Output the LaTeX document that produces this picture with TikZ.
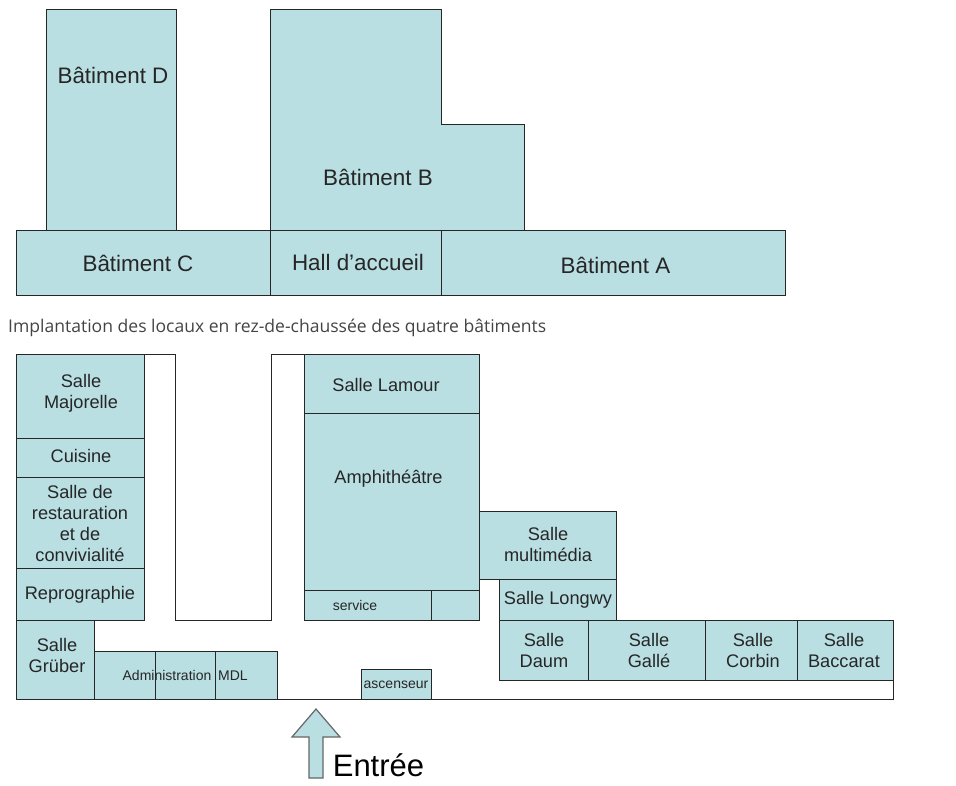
\documentclass[tikz,border=0pt]{standalone}
\usepackage{fontspec}
\setmainfont{Liberation Sans}
\newfontfamily\captionfont{Open Sans}
\definecolor{roomfill}{HTML}{B9DFE2}
\definecolor{roomline}{HTML}{262626}
\definecolor{captext}{HTML}{444444}
\tikzset{
  room/.style={draw=roomline,fill=roomfill,line width=1pt,line join=miter},
  wall/.style={draw=roomline,line width=1pt,line join=miter},
  lab/.style={inner sep=0pt,align=center,text=black!85,font=\fontsize{18.2}{21}\selectfont},
  biglab/.style={lab,font=\fontsize{22.4}{25}\selectfont},
  smalllab/.style={lab,font=\fontsize{14}{16}\selectfont},
  entrylab/.style={lab,text=black,font=\fontsize{31}{34}\selectfont},
  caplab/.style={inner sep=0pt,anchor=west,text=captext,font=\captionfont\fontsize{17.55}{20}\selectfont},
  arrowshape/.style={draw=black!60,fill=roomfill,line width=1.2pt,line join=miter}
}
\begin{document}
\begin{tikzpicture}[x=1pt,y=-1pt]
\useasboundingbox (0,0) rectangle (956,785);
% upper plan
\draw[room] (46,9) rectangle (176,230);
\draw[room] (270,9) -- (441,9) -- (441,124) -- (524,124) -- (524,230) -- (270,230) -- cycle;
\draw[room] (16,230) rectangle (270,295);
\draw[room] (270,230) rectangle (441,295);
\draw[room] (441,230) rectangle (785,295);
\node[biglab] (batD) at (113,75) {Bâtiment D};
\node[biglab] (batB) at (378,177) {Bâtiment B};
\node[biglab] (batC) at (138,263) {Bâtiment C};
\node[biglab] (hall) at (358,262) {Hall d’accueil};
\node[biglab] (batA) at (615.5,265.5) {Bâtiment A};
\node[caplab] (cap) at (8,327.5) {Implantation des locaux en rez-de-chaussée des quatre bâtiments};
% lower plan: walls
\draw[wall] (144,354.5) -- (175,354.5) -- (175,620) -- (271,620) -- (271,354.5) -- (304,354.5);
\draw[wall] (277,699) -- (893,699) -- (893,680);
% left column
\draw[room] (16,354.5) rectangle (144,438);
\draw[room] (16,438) rectangle (144,477);
\draw[room] (16,477) rectangle (144,568);
\draw[room] (16,568) rectangle (144,620);
\draw[room] (16,620) rectangle (94,699);
\draw[room] (94,651) rectangle (155,699);
\draw[room] (155,651) rectangle (215,699);
\draw[room] (215,651) rectangle (277,699);
% centre
\draw[room] (304,354.5) rectangle (479,413);
\draw[room] (304,413) rectangle (479,590);
\draw[room] (304,590) rectangle (431,620);
\draw[room] (431,590) rectangle (479,620);
\draw[room] (361,669) rectangle (431,699);
% right
\draw[room] (479,511) rectangle (616,579);
\draw[room] (499,579) rectangle (616,620);
\draw[room] (499,620) rectangle (588,680);
\draw[room] (588,620) rectangle (705,680);
\draw[room] (705,620) rectangle (797,680);
\draw[room] (797,620) rectangle (893,680);
% labels
\node[lab] (maj) at (81,393.5) {Salle\\Majorelle};
\node[lab] (cui) at (81,455.5) {Cuisine};
\node[lab] (res) at (80,523.5) {Salle de\\restauration\\et de\\convivialité};
\node[lab] (rep) at (80,594.5) {Reprographie};
\node[lab] (gru) at (57,655.5) {Salle\\Grüber};
\node[smalllab] (adm) at (167,675) {Administration};
\node[smalllab] (mdl) at (233,676) {MDL};
\node[lab] (lam) at (386,385) {Salle Lamour};
\node[lab] (amp) at (388.5,478.5) {Amphithéâtre};
\node[smalllab] (ser) at (355,605.5) {service};
\node[smalllab] (asc) at (396,684.5) {ascenseur};
\node[lab] (mul) at (548,544) {Salle\\multimédia};
\node[lab] (lon) at (558,600) {Salle Longwy};
\node[lab] (dau) at (544,650) {Salle\\Daum};
\node[lab] (gal) at (649,650) {Salle\\Gallé};
\node[lab] (cor) at (753,650) {Salle\\Corbin};
\node[lab] (bac) at (844,650) {Salle\\Baccarat};
% entrance
\draw[arrowshape] (316,709) -- (340,737) -- (323,737) -- (323,778) -- (309,778) -- (309,737) -- (292,737) -- cycle;
\node[entrylab] (ent) at (378.5,765) {Entrée};
\end{tikzpicture}
\end{document}
